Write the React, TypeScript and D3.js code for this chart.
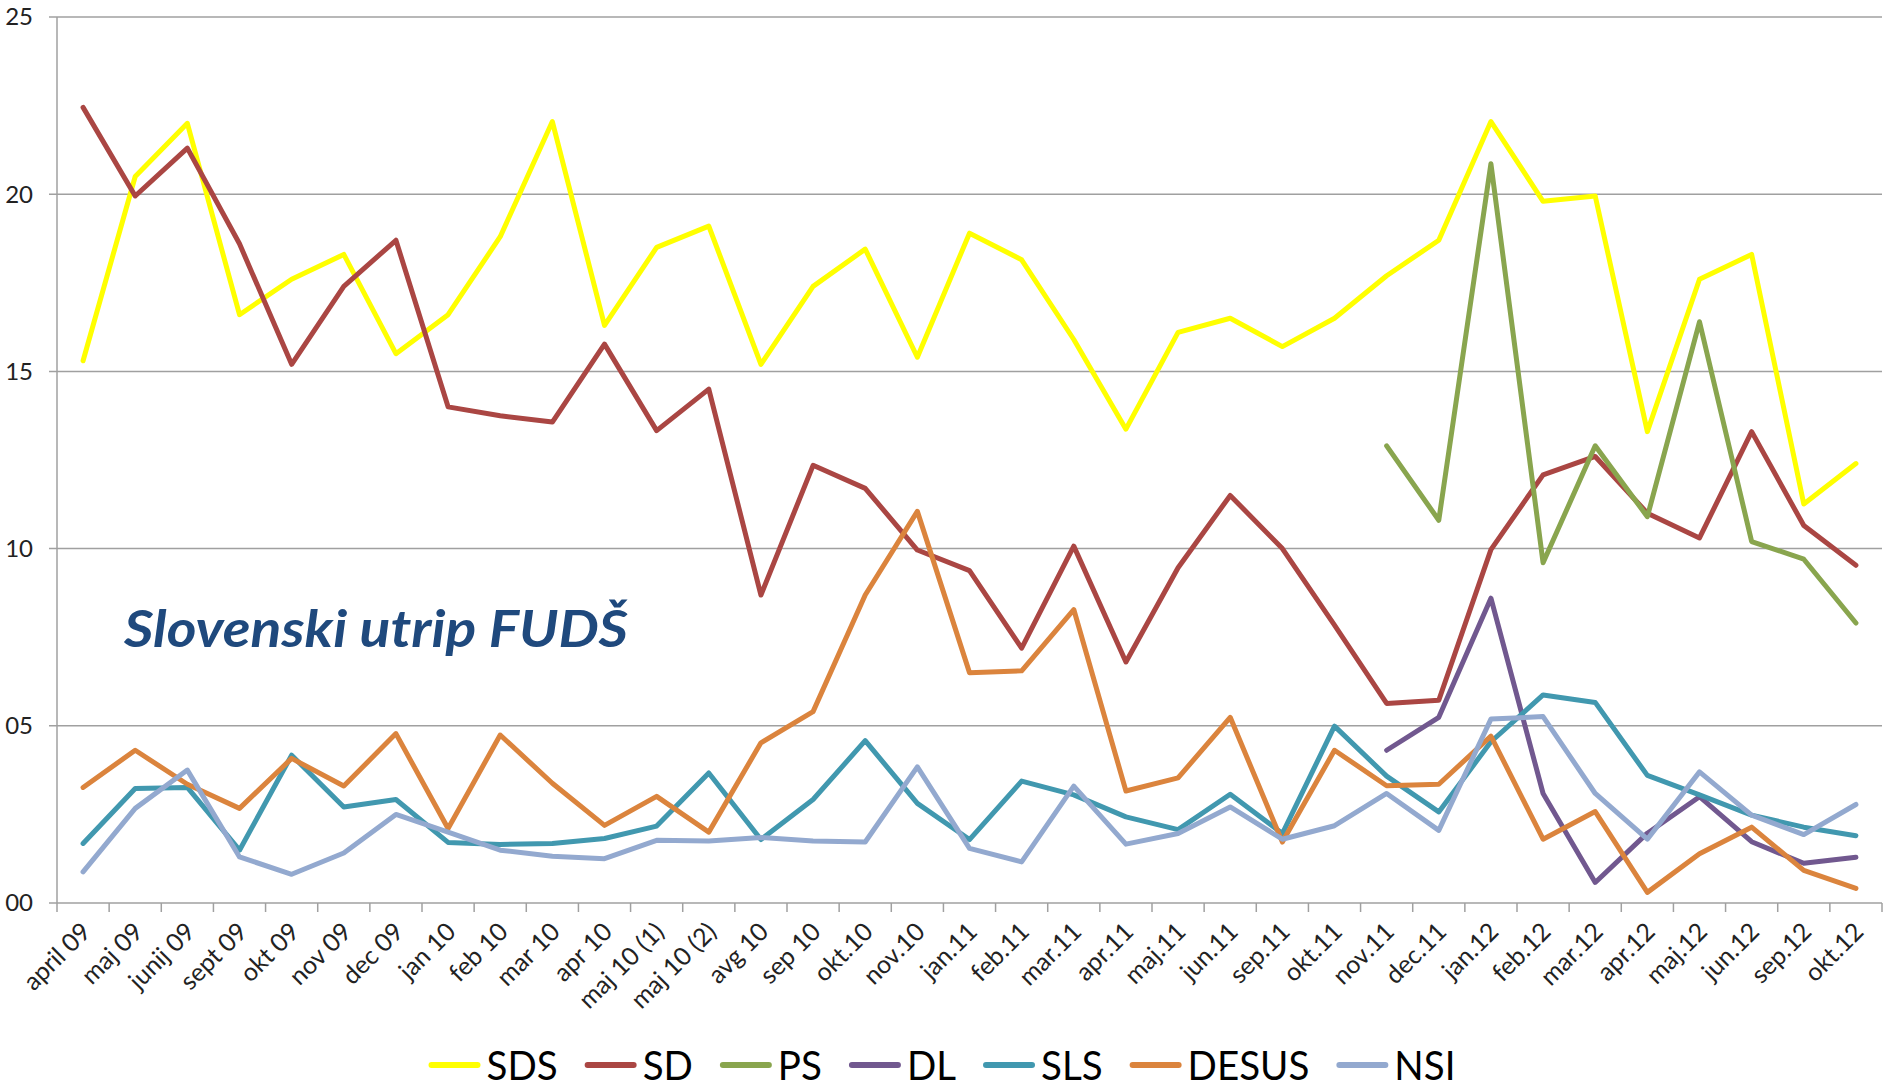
import React from "react";
import * as d3 from "d3";

const months = [
  "april 09", "maj 09", "junij 09", "sept 09", "okt 09", "nov 09", "dec 09",
  "jan 10", "feb 10", "mar 10", "apr 10", "maj 10 (1)", "maj 10 (2)", "avg 10",
  "sep 10", "okt.10", "nov.10", "jan.11", "feb.11", "mar.11", "apr.11", "maj.11",
  "jun.11", "sep.11", "okt.11", "nov.11", "dec.11", "jan.12", "feb.12", "mar.12",
  "apr.12", "maj.12", "jun.12", "sep.12", "okt.12",
];

// values (percent)
const sds = [
  15.3, 20.5, 22.0, 16.6, 17.6, 18.3, 15.5, 16.6, 18.8, 22.05, 16.3, 18.5, 19.1,
  15.2, 17.4, 18.45, 15.4, 18.9, 18.15, 15.9, 13.37, 16.1, 16.5, 15.7, 16.5,
  17.7, 18.7, 22.05, 19.8, 19.95, 13.3, 17.6, 18.3, 11.26, 12.4,
];
const sd = [
  22.45, 19.95, 21.3, 18.6, 15.2, 17.4, 18.7, 14.0, 13.75, 13.57, 15.77, 13.33,
  14.5, 8.69, 12.35, 11.7, 9.96, 9.38, 7.19, 10.07, 6.8, 9.46, 11.5, 10.0, 7.84,
  5.63, 5.72, 9.97, 12.08, 12.6, 11.0, 10.3, 13.3, 10.65, 9.53,
];
const ps = [
  null, null, null, null, null, null, null, null, null, null, null, null, null,
  null, null, null, null, null, null, null, null, null, null, null, null,
  12.9, 10.8, 20.86, 9.6, 12.9, 10.9, 16.4, 10.2, 9.7, 7.9,
];
const dl = [
  null, null, null, null, null, null, null, null, null, null, null, null, null,
  null, null, null, null, null, null, null, null, null, null, null, null,
  4.31, 5.24, 8.6, 3.09, 0.58, 1.97, 3.0, 1.73, 1.12, 1.29,
];
const sls = [
  1.68, 3.23, 3.26, 1.49, 4.17, 2.71, 2.92, 1.71, 1.65, 1.68, 1.82, 2.17, 3.67,
  1.79, 2.92, 4.58, 2.81, 1.79, 3.44, 3.05, 2.43, 2.07, 3.07, 1.96, 4.99, 3.58,
  2.57, 4.55, 5.87, 5.66, 3.6, 3.05, 2.48, 2.14, 1.9,
];
const desus = [
  3.26, 4.31, 3.35, 2.67, 4.08, 3.3, 4.78, 2.1, 4.74, 3.38, 2.19, 3.01, 2.0,
  4.52, 5.4, 8.69, 11.05, 6.5, 6.55, 8.28, 3.16, 3.53, 5.24, 1.72, 4.31, 3.31,
  3.35, 4.71, 1.8, 2.58, 0.3, 1.39, 2.14, 0.92, 0.41,
];
const nsi = [
  0.88, 2.67, 3.75, 1.3, 0.81, 1.41, 2.5, 2.0, 1.49, 1.32, 1.25, 1.77, 1.75,
  1.85, 1.75, 1.72, 3.84, 1.54, 1.16, 3.3, 1.66, 1.96, 2.71, 1.8, 2.18, 3.09,
  2.05, 5.19, 5.26, 3.09, 1.8, 3.7, 2.48, 1.93, 2.78,
];

const yTicks = [0, 5, 10, 15, 20, 25];

const series = [
  { name: "SDS", color: "#FFFF00", values: sds },
  { name: "SD", color: "#AA4643", values: sd },
  { name: "PS", color: "#89A54E", values: ps },
  { name: "DL", color: "#71588F", values: dl },
  { name: "SLS", color: "#4198AF", values: sls },
  { name: "DESUS", color: "#DB843D", values: desus },
  { name: "NSI", color: "#93A9CF", values: nsi },
];

const font = "Lato, 'Open Sans', sans-serif";

const measure = (txt: string, size: number) => {
  const ctx = document.createElement("canvas").getContext("2d");
  if (!ctx) return txt.length * size * 0.5;
  ctx.font = `${size}px Lato`;
  return ctx.measureText(txt).width;
};

export default function App() {
  const width = 1885;
  const height = 1091;
  const left = 57, right = 1882, top = 17, bottom = 903;

  const x = d3.scaleBand<string>().domain(months).range([left, right]);
  const y = d3.scaleLinear().domain([0, 25]).range([bottom, top]);
  const bw = x.bandwidth();

  const line = d3
    .line<number | null>()
    .defined((d) => d != null)
    .x((_, i) => (x(months[i]) as number) + bw / 2)
    .y((d) => y(d as number));

  // legend layout, centered under the chart (text squeezed like the original)
  const legSize = 41;
  const squeeze = 0.94;
  const swatch = 50;
  const items = series.map((s) => ({ ...s, w: measure(s.name, legSize) * squeeze }));
  const total = d3.sum(items, (d) => swatch + 7 + d.w) + 28 * (items.length - 1);
  let cursor = width / 2 - total / 2;
  const legend = items.map((d) => {
    const pos = cursor;
    cursor += swatch + 7 + d.w + 28;
    return { ...d, pos };
  });

  return (
    <svg
      width={width}
      height={height}
      style={{ position: "absolute", left: 0, top: 0, background: "#fff" }}
      fontFamily={font}
    >
      {/* gridlines */}
      {yTicks.map((t) => (
        <g key={t}>
          <line x1={left - 8} x2={right} y1={y(t)} y2={y(t)} stroke="#A0A0A0" strokeWidth={1.5} />
          <text x={33} y={y(t)} dy="0.35em" textAnchor="end" fontSize={24} fill="#222">
            {d3.format("02d")(t)}
          </text>
        </g>
      ))}
      <line x1={left} x2={left} y1={top} y2={bottom} stroke="#A0A0A0" strokeWidth={1.5} />

      {/* x ticks */}
      {d3.range(months.length + 1).map((i) => (
        <line
          key={i}
          x1={left + i * bw}
          x2={left + i * bw}
          y1={bottom}
          y2={bottom + 9}
          stroke="#A0A0A0"
          strokeWidth={1.5}
        />
      ))}
      {months.map((m) => (
        <text
          key={m}
          transform={`translate(${(x(m) as number) + bw / 2 + 3},${bottom + 24}) rotate(-45)`}
          textAnchor="end"
          dy="0.35em"
          fontSize={25}
          fill="#222"
        >
          {m}
        </text>
      ))}

      {/* series */}
      {series.map((s) => (
        <path
          key={s.name}
          d={line(s.values) || ""}
          fill="none"
          stroke={s.color}
          strokeWidth={5}
          strokeLinejoin="round"
          strokeLinecap="round"
        />
      ))}

      <text
        x={124}
        y={647}
        fontSize={52}
        fontWeight="bold"
        fontStyle="italic"
        fill="#1F497D"
        textLength={504}
        lengthAdjust="spacingAndGlyphs"
      >
        Slovenski utrip FUDŠ
      </text>

      {/* legend */}
      {legend.map((d) => (
        <g key={d.name} transform={`translate(${d.pos},1080)`}>
          <line x1={2} x2={swatch - 2} y1={-15} y2={-15} stroke={d.color} strokeWidth={6} strokeLinecap="round" />
          <text transform={`translate(${swatch + 7},0) scale(${squeeze},1)`} fontSize={legSize} fill="#000">
            {d.name}
          </text>
        </g>
      ))}
    </svg>
  );
}
